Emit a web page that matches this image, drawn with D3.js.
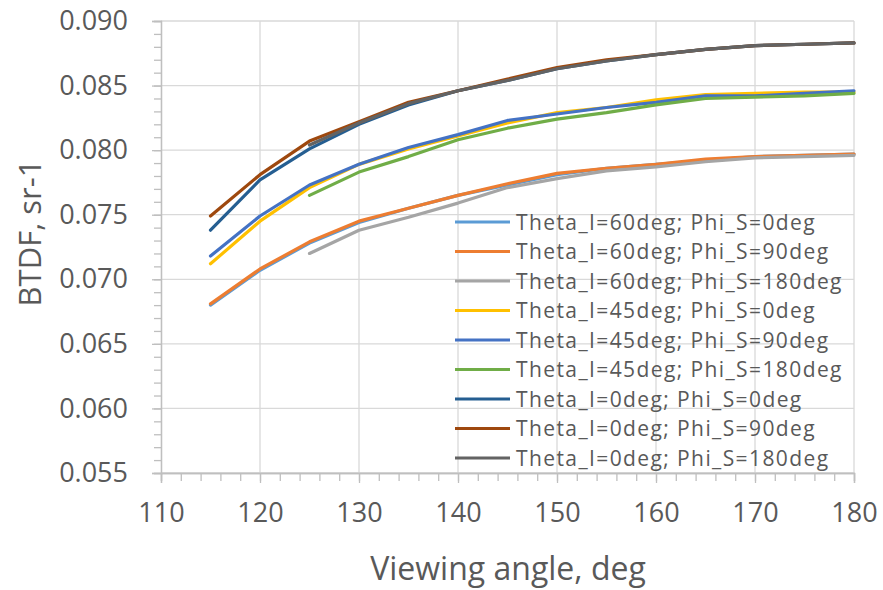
<!DOCTYPE html>
<html>
<head>
<meta charset="utf-8">
<script src="https://cdn.jsdelivr.net/npm/d3@7"></script>
<style>
  html, body { margin: 0; padding: 0; background: #fff; }
  svg { display: block; }
  text { font-family: "Open Sans", "Noto Sans", sans-serif; fill: #595959; }
</style>
</head>
<body>
<svg id="chart" width="883" height="590"></svg>
<script>
// ---- data ----
const angles = [115, 120, 125, 130, 135, 140, 145, 150, 155, 160, 165, 170, 175, 180];
const seriesNames = [
  "Theta_I=60deg; Phi_S=0deg",
  "Theta_I=60deg; Phi_S=90deg",
  "Theta_I=60deg; Phi_S=180deg",
  "Theta_I=45deg; Phi_S=0deg",
  "Theta_I=45deg; Phi_S=90deg",
  "Theta_I=45deg; Phi_S=180deg",
  "Theta_I=0deg; Phi_S=0deg",
  "Theta_I=0deg; Phi_S=90deg",
  "Theta_I=0deg; Phi_S=180deg"
];
const t60p0   = [0.0680, 0.0707, 0.0728, 0.0744, 0.0755, 0.0765, 0.0773, 0.0781, 0.0786, 0.0789, 0.0792, 0.0795, 0.0796, 0.0797];
const t60p90  = [0.0681, 0.0708, 0.0729, 0.0745, 0.0755, 0.0765, 0.0774, 0.0782, 0.0786, 0.0789, 0.0793, 0.0795, 0.0796, 0.0797];
const t60p180 = [null,   null,   0.0720, 0.0738, 0.0748, 0.0759, 0.0771, 0.0778, 0.0784, 0.0787, 0.0791, 0.0794, 0.0795, 0.0796];
const t45p0   = [0.0712, 0.0745, 0.0771, 0.0789, 0.0801, 0.0811, 0.0821, 0.0829, 0.0833, 0.0839, 0.0843, 0.0844, 0.0845, 0.0845];
const t45p90  = [0.0718, 0.0749, 0.0773, 0.0789, 0.0802, 0.0812, 0.0823, 0.0828, 0.0833, 0.0837, 0.0842, 0.0842, 0.0844, 0.0846];
const t45p180 = [null,   null,   0.0765, 0.0783, 0.0795, 0.0808, 0.0817, 0.0824, 0.0829, 0.0835, 0.0840, 0.0841, 0.0842, 0.0844];
const t0p0    = [0.0738, 0.0777, 0.0801, 0.0820, 0.0835, 0.0846, 0.0854, 0.0863, 0.0869, 0.0874, 0.0878, 0.0881, 0.0882, 0.0883];
const t0p90   = [0.0749, 0.0781, 0.0807, 0.0822, 0.0837, 0.0846, 0.0855, 0.0864, 0.0870, 0.0874, 0.0878, 0.0881, 0.0882, 0.0883];
const t0p180  = [null,   null,   0.0804, 0.0821, 0.0836, 0.0846, 0.0854, 0.0863, 0.0869, 0.0874, 0.0878, 0.0881, 0.0882, 0.0883];
const seriesValues = [t60p0, t60p90, t60p180, t45p0, t45p90, t45p180, t0p0, t0p90, t0p180];
const colors = ["#5B9BD5", "#ED7D31", "#A5A5A5", "#FFC000", "#4472C4", "#70AD47", "#255E91", "#9E480E", "#636363"];
const xTicks = [110, 120, 130, 140, 150, 160, 170, 180];
const yTicks = [0.055, 0.060, 0.065, 0.070, 0.075, 0.080, 0.085, 0.090];
const xTitle = "Viewing angle, deg";
const yTitle = "BTDF, sr-1";

// ---- layout ----
const svg = d3.select("#chart");
const margin = { left: 161, right: 29, top: 21, bottom: 117 };
const W = 883, H = 590;
const x = d3.scaleLinear().domain([110, 180]).range([margin.left, W - margin.right]);
const y = d3.scaleLinear().domain([0.055, 0.090]).range([H - margin.bottom, margin.top]);

const gridColor = "#D9D9D9";

// gridlines
svg.append("g").selectAll("line").data(yTicks).join("line")
  .attr("x1", x(110)).attr("x2", x(180))
  .attr("y1", d => y(d)).attr("y2", d => y(d))
  .attr("stroke", gridColor).attr("stroke-width", 1.3);
svg.append("g").selectAll("line").data(xTicks.slice(1)).join("line")
  .attr("x1", d => x(d)).attr("x2", d => x(d))
  .attr("y1", y(0.055)).attr("y2", y(0.090))
  .attr("stroke", gridColor).attr("stroke-width", 1.3);

// axes
const minorX = d3.range(110, 180.001, 2);
const minorY = d3.range(0.055, 0.09001, 0.001);

const gxMinor = svg.append("g").attr("transform", `translate(0,${y(0.055)})`)
  .call(d3.axisBottom(x).tickValues(minorX).tickSize(8).tickFormat(""));
const gx = svg.append("g").attr("transform", `translate(0,${y(0.055)})`)
  .call(d3.axisBottom(x).tickValues(xTicks).tickSize(10).tickPadding(20).tickFormat(d3.format("d")));
const gyMinor = svg.append("g").attr("transform", `translate(${x(110)},0)`)
  .call(d3.axisLeft(y).tickValues(minorY).tickSize(7).tickFormat(""));
const gy = svg.append("g").attr("transform", `translate(${x(110)},0)`)
  .call(d3.axisLeft(y).tickValues(yTicks).tickSize(9).tickPadding(24).tickFormat(d3.format(".3f")));

[gxMinor, gx, gyMinor, gy].forEach(g => {
  g.selectAll(".domain").attr("stroke", "#BFBFBF").attr("stroke-width", 1.3);
  g.selectAll(".tick line").attr("stroke", "#BFBFBF").attr("stroke-width", 1.3);
  g.selectAll("text").attr("font-family", "'Open Sans', sans-serif").attr("font-size", 27).attr("fill", "#595959");
});

// titles
svg.append("text").attr("x", 508).attr("y", 580).attr("text-anchor", "middle")
  .attr("font-size", 32).text(xTitle);
svg.append("text").attr("transform", "translate(41,233) rotate(-90)").attr("text-anchor", "middle")
  .attr("font-size", 31).text(yTitle);

// lines
const line = d3.line()
  .defined(d => d[1] !== null)
  .x(d => x(d[0])).y(d => y(d[1]));
seriesValues.forEach((vals, i) => {
  svg.append("path")
    .datum(angles.map((a, j) => [a, vals[j]]))
    .attr("d", line)
    .attr("fill", "none")
    .attr("stroke", colors[i])
    .attr("stroke-width", 3.2)
    .attr("stroke-linejoin", "round")
    .attr("stroke-linecap", "round");
});

// legend
const lg = svg.append("g");
seriesNames.forEach((name, i) => {
  const cy = 222 + i * 29.5;
  lg.append("line").attr("x1", 455).attr("x2", 510).attr("y1", cy).attr("y2", cy)
    .attr("stroke", colors[i]).attr("stroke-width", 3.2);
  lg.append("text").attr("x", 516).attr("y", cy).attr("dy", "0.36em")
    .attr("font-size", 21).attr("letter-spacing", 1.4).text(name);
});
</script>
</body>
</html>
